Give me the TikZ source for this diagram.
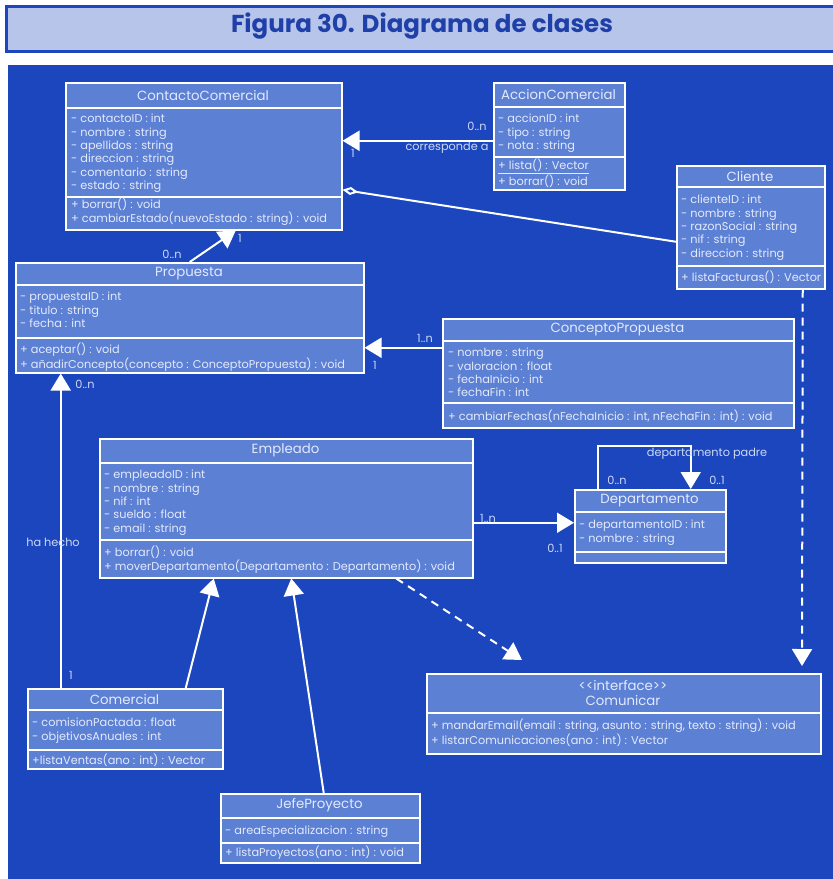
\documentclass[tikz,border=0pt]{standalone}
\usepackage{fontspec}
\setmainfont{Poppins}
\usetikzlibrary{arrows.meta}
\usetikzlibrary{calc}

\definecolor{panelblue}{RGB}{27,70,190}
\definecolor{boxblue}{RGB}{92,128,212}
\definecolor{titlefill}{RGB}{184,197,234}
\definecolor{titletext}{RGB}{30,64,168}
\definecolor{boxtext}{RGB}{228,234,252}
\definecolor{labeltext}{RGB}{205,216,246}

\tikzset{
  classbox/.style={draw=white, line width=1.5pt, fill=boxblue, anchor=north west, inner sep=0pt},
  divider/.style={draw=white, line width=1.5pt},
  classname/.style={text=boxtext, font=\fontsize{13.3}{15}\selectfont, inner sep=0pt, align=center},
  members/.style={text=boxtext, font=\fontsize{11.3}{13.3}\selectfont, align=left, anchor=north west, inner sep=0pt},
  assoc/.style={draw=white, line width=2pt},
  realiza/.style={draw=white, line width=2pt, dash pattern=on 8pt off 6pt},
  gen/.style={-{Triangle[length=17pt,width=20pt]}},
  lbl/.style={text=labeltext, font=\fontsize{11.3}{13}\selectfont, inner sep=0pt},
}

\begin{document}
\begin{tikzpicture}[x=1pt, y=-1pt]
  \useasboundingbox (0,0) rectangle (833,879);
  % title
  \draw[fill=titlefill, draw=panelblue, line width=3pt] (6,6) rectangle (840,51);
  \node[text=titletext, font=\bfseries\fontsize{24.5}{26}\selectfont] (title) at (422,26) {Figura 30. Diagrama de clases};
  % panel
  \fill[panelblue] (8,65) rectangle (833,879);

  % ContactoComercial
  \node[classbox, minimum width=276pt, minimum height=147pt] (contacto) at (65,82) {};
  \draw[divider] (65,108) -- (341,108);
  \draw[divider] (65,197) -- (341,197);
  \node[classname] (contacto-name) at (203,95) {ContactoComercial};
  \node[members] (contacto-attr) at (71,114) {- contactoID : int\\- nombre : string\\- apellidos : string\\- direccion : string\\- comentario : string\\- estado : string};
  \node[members] (contacto-ops) at (71,198) {+ borrar() : void\\+ cambiarEstado(nuevoEstado : string) : void};

  % AccionComercial
  \node[classbox, minimum width=131pt, minimum height=107pt] (accion) at (493,82) {};
  \draw[divider] (493,107) -- (624,107);
  \draw[divider] (493,157) -- (624,157);
  \node[classname] (accion-name) at (558.5,94.5) {AccionComercial};
  \node[members] (accion-attr) at (498,114) {- accionID : int\\- tipo : string\\- nota : string};
  \node[members] (accion-ops) at (498,159) {\underline{+ lista() : Vector}\\+ borrar() : void};

  % Cliente
  \node[classbox, minimum width=148pt, minimum height=123pt] (cliente) at (676,165) {};
  \draw[divider] (676,187) -- (824,187);
  \draw[divider] (676,266) -- (824,266);
  \node[classname] (cliente-name) at (750,176) {Cliente};
  \node[members] (cliente-attr) at (681,195) {- clienteID : int\\- nombre : string\\- razonSocial : string\\- nif : string\\- direccion : string};
  \node[members] (cliente-ops) at (681,271) {+ listaFacturas() : Vector};

  % Propuesta
  \node[classbox, minimum width=348pt, minimum height=110pt] (propuesta) at (15,262) {};
  \draw[divider] (15,285) -- (363,285);
  \draw[divider] (15,338) -- (363,338);
  \node[classname] (propuesta-name) at (189,273.5) {Propuesta};
  \node[members] (propuesta-attr) at (20,292) {- propuestaID : int\\- titulo : string\\- fecha : int};
  \node[members] (propuesta-ops) at (20,343) {+ aceptar() : void\\+ añadirConcepto(concepto : ConceptoPropuesta) : void};

  % ConceptoPropuesta
  \node[classbox, minimum width=351pt, minimum height=109pt] (concepto) at (442,318) {};
  \draw[divider] (442,341) -- (793,341);
  \draw[divider] (442,403) -- (793,403);
  \node[classname] (concepto-name) at (617.5,329.5) {ConceptoPropuesta};
  \node[members] (concepto-attr) at (448,348) {- nombre : string\\- valoracion : float\\- fechaInicio : int\\- fechaFin : int};
  \node[members] (concepto-ops) at (448,410) {+ cambiarFechas(nFechaInicio : int, nFechaFin : int) : void};

  % Empleado
  \node[classbox, minimum width=373pt, minimum height=139pt] (empleado) at (99,438) {};
  \draw[divider] (99,463) -- (472,463);
  \draw[divider] (99,540) -- (472,540);
  \node[classname] (empleado-name) at (285.5,450.5) {Empleado};
  \node[members] (empleado-attr) at (104,470) {- empleadoID : int\\- nombre : string\\- nif : int\\- sueldo : float\\- email : string};
  \node[members] (empleado-ops) at (104,546) {+ borrar() : void\\+ moverDepartamento(Departamento : Departamento) : void};

  % Departamento
  \node[classbox, minimum width=151pt, minimum height=73pt] (departamento) at (574,489) {};
  \draw[divider] (574,512) -- (725,512);
  \draw[divider] (574,552) -- (725,552);
  \node[classname] (departamento-name) at (649.5,500.5) {Departamento};
  \node[members] (departamento-attr) at (579,520) {- departamentoID : int\\- nombre : string};

  % Comercial
  \node[classbox, minimum width=195pt, minimum height=80pt] (comercial) at (27,688) {};
  \draw[divider] (27,710) -- (222,710);
  \draw[divider] (27,750) -- (222,750);
  \node[classname] (comercial-name) at (124.5,699) {Comercial};
  \node[members] (comercial-attr) at (32,718) {- comisionPactada : float\\- objetivosAnuales : int};
  \node[members] (comercial-ops) at (32,754) {+listaVentas(ano : int) : Vector};

  % JefeProyecto
  \node[classbox, minimum width=199pt, minimum height=69pt] (jefe) at (220,793) {};
  \draw[divider] (220,818) -- (419,818);
  \draw[divider] (220,843) -- (419,843);
  \node[classname] (jefe-name) at (319.5,805.5) {JefeProyecto};
  \node[members] (jefe-attr) at (225,826) {- areaEspecializacion : string};
  \node[members] (jefe-ops) at (225,846) {+ listaProyectos(ano : int) : void};

  % Comunicar
  \node[classbox, minimum width=394pt, minimum height=80pt] (comunicar) at (426,673) {};
  \draw[divider] (426,713) -- (820,713);
  \node[classname] (comunicar-name) at (623,693) {<{}<interface>{}>\\Comunicar};
  \node[members] (comunicar-ops) at (431,719) {+ mandarEmail(email : string, asunto : string, texto : string) : void\\+ listarComunicaciones(ano : int) : Vector};

  % corresponde a
  \coordinate (accionEnd) at ([yshift=-4.5pt]accion.west);
  \draw[assoc, gen] (accionEnd) -- (accionEnd -| contacto.east);
  \node[lbl] (accion-mult) at (477,126) {0..n};
  \node[lbl] (accion-rol) at (447,148) {corresponde a};
  \node[lbl] (contacto-mult1) at (353,153) {1};

  % agregacion con Cliente
  \coordinate (aggStart) at ([yshift=-33.5pt]contacto.east);
  \coordinate (aggEnd) at ([yshift=-14.5pt]cliente.west);
  \draw[assoc, {Diamond[open, length=16pt, width=8pt]}-] (aggStart) -- (aggEnd);

  % Propuesta -> ContactoComercial
  \draw[assoc, gen] (propuesta.north) -- ([xshift=32pt]contacto.south);
  \node[lbl] (propuesta-mult) at (172,254) {0..n};
  \node[lbl] (contacto-mult2) at (240,238) {1};

  % ConceptoPropuesta -> Propuesta
  \coordinate (concEnd) at ([yshift=25.5pt]concepto.west);
  \draw[assoc, gen] (concEnd) -- (concEnd -| propuesta.east);
  \node[lbl] (concepto-mult) at (425,338) {1..n};
  \node[lbl] (propuesta-mult1) at (375,365) {1};

  % ha hecho
  \coordinate (hechoEnd) at ([xshift=-64.5pt]comercial.north);
  \draw[assoc, gen] (hechoEnd) -- (hechoEnd |- propuesta.south);
  \node[lbl] (hecho-mult) at (85,384) {0..n};
  \node[lbl] (hecho-rol) at (53,542) {ha hecho};
  \node[lbl] (comercial-mult) at (71,675) {1};

  % Empleado -> Departamento
  \coordinate (depEnd) at ([yshift=3.5pt]departamento.west);
  \draw[assoc, gen] (depEnd -| empleado.east) -- (depEnd);
  \node[lbl] (empleado-mult) at (488,518) {1..n};
  \node[lbl] (departamento-mult) at (555,548) {0..1};

  % departamento padre
  \draw[assoc, gen] ([xshift=-52.5pt]departamento.north) -- ++(0,-43) -| ([xshift=40.5pt]departamento.north);
  \node[lbl] (padre-rol) at (707,454) {departamento padre};
  \node[lbl] (padre-mult1) at (617,480) {0..n};
  \node[lbl] (padre-mult2) at (717,480) {0..1};

  % herencia
  \draw[assoc, gen] ([xshift=60.5pt]comercial.north) -- ([xshift=-72.5pt]empleado.south);
  \draw[assoc, gen] ([xshift=3.5pt]jefe.north) -- ([xshift=5pt]empleado.south);

  % realizacion de Comunicar
  \coordinate (empReal) at (522,660);
  \draw[realiza, gen] ([xshift=110pt]empleado.south) -- (empReal);
  \coordinate (cliReal) at (802,666);
  \draw[realiza, gen] ([xshift=52pt]cliente.south) -- (cliReal);
\end{tikzpicture}
\end{document}
